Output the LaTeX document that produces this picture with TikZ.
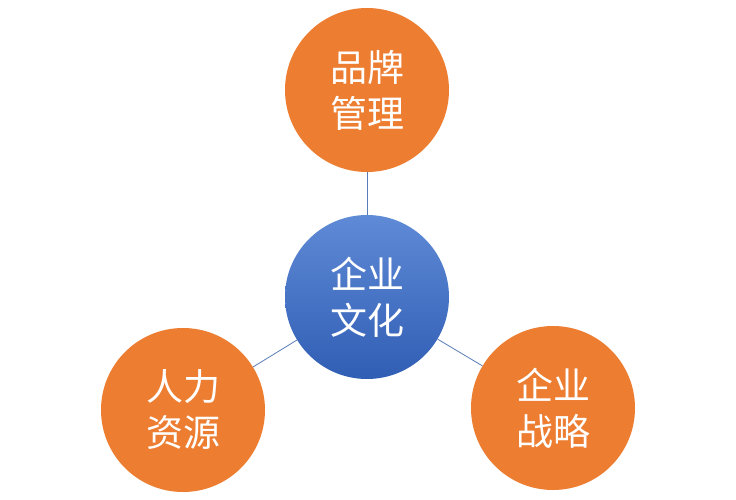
\documentclass[tikz,border=0pt]{standalone}
\usepackage{fontspec}
\newfontfamily\cjk{Noto Sans CJK SC}
\definecolor{org}{HTML}{ED7D31}
\definecolor{lnk}{HTML}{5A7DB8}
\definecolor{btop}{HTML}{5F8AD6}
\definecolor{bbot}{HTML}{305EB4}
\begin{document}
\begin{tikzpicture}[x=1pt,y=-1pt,
  c/.style={circle,minimum size=164pt,inner sep=0pt,text=white,font=\cjk\fontsize{37}{46}\selectfont,align=center},
  o/.style={c,fill=org},
  l/.style={draw=lnk,line width=0.8pt}]
\fill[white] (0,0) rectangle (736,500);
\node[o] (t) at (367,90) {品牌\\管理};
\node[o] (lft) at (183,410) {人力\\资源};
\node[o] (r) at (553,408) {企业\\战略};
\node[c,top color=btop,bottom color=bbot] (m) at (367,297) {企业\\文化};
\draw[l] (t) -- (m);
\draw[l] (m) -- (lft);
\draw[l] (m) -- (r);
\end{tikzpicture}
\end{document}
